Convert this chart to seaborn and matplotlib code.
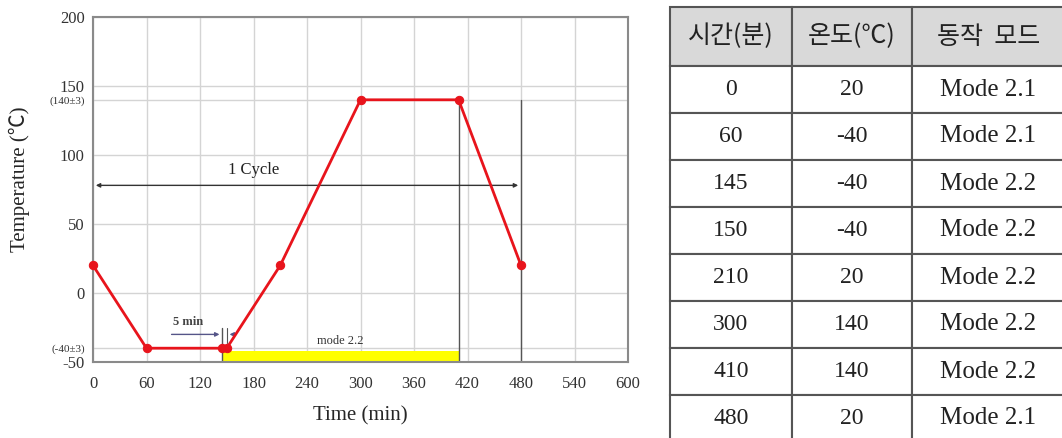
import matplotlib
matplotlib.use("Agg")
import matplotlib.pyplot as plt
import seaborn as sns
import pandas as pd

# cycle profile (same values as the table)
time_min = [0, 60, 145, 150, 210, 300, 410, 480]
temp_c = [20, -40, -40, -40, 20, 140, 140, 20]
modes = ["Mode 2.1", "Mode 2.1", "Mode 2.2", "Mode 2.2",
         "Mode 2.2", "Mode 2.2", "Mode 2.2", "Mode 2.1"]
headers = ["시간(분)", "온도(℃)", "동작  모드"]

x_ticks = [0, 60, 120, 180, 240, 300, 360, 420, 480, 540, 600]
y_ticks = [-50, -40, 0, 50, 100, 140, 150, 200]
y_labels = ["-50", "(-40±3)", "0", "50", "100", "(140±3)", "150", "200"]

sns.set_style("white")
serif = ["Liberation Serif", "Noto Sans CJK KR", "DejaVu Sans"]
plt.rcParams["font.family"] = serif

df = pd.DataFrame({"time": time_min, "temp": temp_c, "mode": modes})

fig = plt.figure(figsize=(10.62, 4.38), dpi=100)
ax = fig.add_axes([93 / 1062, 1 - 362 / 438, 535 / 1062, 345 / 438])

# grid
for t in x_ticks:
    ax.axvline(t, color="#d4d4d4", lw=1, zorder=0)
for t in y_ticks:
    ax.axhline(t, color="#d4d4d4", lw=1, zorder=0)

# mode 2.2 band
ax.fill_between([145, 410], -50, -42, color="#ffff00", lw=0, zorder=1)
ax.text(277, -35, "mode 2.2", fontsize=9, ha="center", va="center", color="#333333")

# dark markers
ax.plot([410, 410], [-50, 140], color="#555555", lw=1, zorder=2)
ax.plot([480, 480], [-50, 140], color="#555555", lw=1, zorder=2)
ax.plot([145, 145], [-50, -25], color="#555555", lw=1, zorder=2)
ax.plot([150, 150], [-36, -25], color="#555555", lw=0.8, zorder=2)

# 5 min arrows
ax.annotate("", xy=(145, -30), xytext=(85, -30),
            arrowprops=dict(arrowstyle="-|>", color="#555588", lw=1, mutation_scale=6))
ax.annotate("", xy=(150, -30), xytext=(162, -30),
            arrowprops=dict(arrowstyle="-|>", color="#555588", lw=1, mutation_scale=6))
ax.text(107, -21, "5 min", fontsize=9, fontweight="bold", ha="center", va="center", color="#444444")

# 1 cycle arrow
ax.annotate("", xy=(0, 78), xytext=(480, 78),
            arrowprops=dict(arrowstyle="<|-|>", color="#333333", lw=1, mutation_scale=6))
ax.text(180, 89, "1 Cycle", fontsize=12, ha="center", va="center", color="#222222")

sns.lineplot(data=df, x="time", y="temp", ax=ax, color="#e8141c", lw=2,
             marker="o", markersize=6, markeredgecolor="#e8141c", zorder=5, clip_on=False)

ax.set_xlim(0, 600)
ax.set_ylim(-50, 200)
ax.set_xticks(x_ticks)
ax.set_xticklabels([str(t) for t in x_ticks], fontsize=12, color="#333333")
ax.set_yticks(y_ticks)
ax.set_yticklabels(y_labels, color="#333333")
for lab, txt in zip(ax.get_yticklabels(), y_labels):
    lab.set_fontsize(8 if txt.startswith("(") else 12)
ax.tick_params(axis="x", length=0, pad=10)
ax.tick_params(axis="y", length=0, pad=6)
ax.set_xlabel("Time (min)", fontsize=15, labelpad=10)
ax.set_ylabel("Temperature (℃)", fontsize=15)
ax.yaxis.set_label_coords(-0.118, 0.53)
for sp in ax.spines.values():
    sp.set_color("#8a8a8a")
    sp.set_linewidth(1.5)

# table on the right
tax = fig.add_axes([670 / 1062, -4 / 438, 395 / 1062, 435 / 438])
tax.axis("off")
cells = [[str(t), str(v), m] for t, v, m in zip(time_min, temp_c, modes)]
tbl = tax.table(cellText=cells, colLabels=headers, colWidths=[122, 120, 153],
                cellLoc="center", bbox=[0, 0, 1, 1])
tbl.auto_set_font_size(False)
for (r, c), cell in tbl.get_celld().items():
    cell.set_edgecolor("#555555")
    cell.set_linewidth(1.5)
    cell.set_height(59 if r == 0 else 47)
    txt = cell.get_text()
    txt.set_color("#222222")
    if r == 0:
        cell.set_facecolor("#d9d9d9")
        txt.set_fontfamily(["Noto Sans CJK KR", "DejaVu Sans"])
        txt.set_fontsize(18)
    else:
        txt.set_fontfamily(serif)
        txt.set_fontsize(18 if c == 2 else 17)

fig.savefig("out.png", dpi=100)
